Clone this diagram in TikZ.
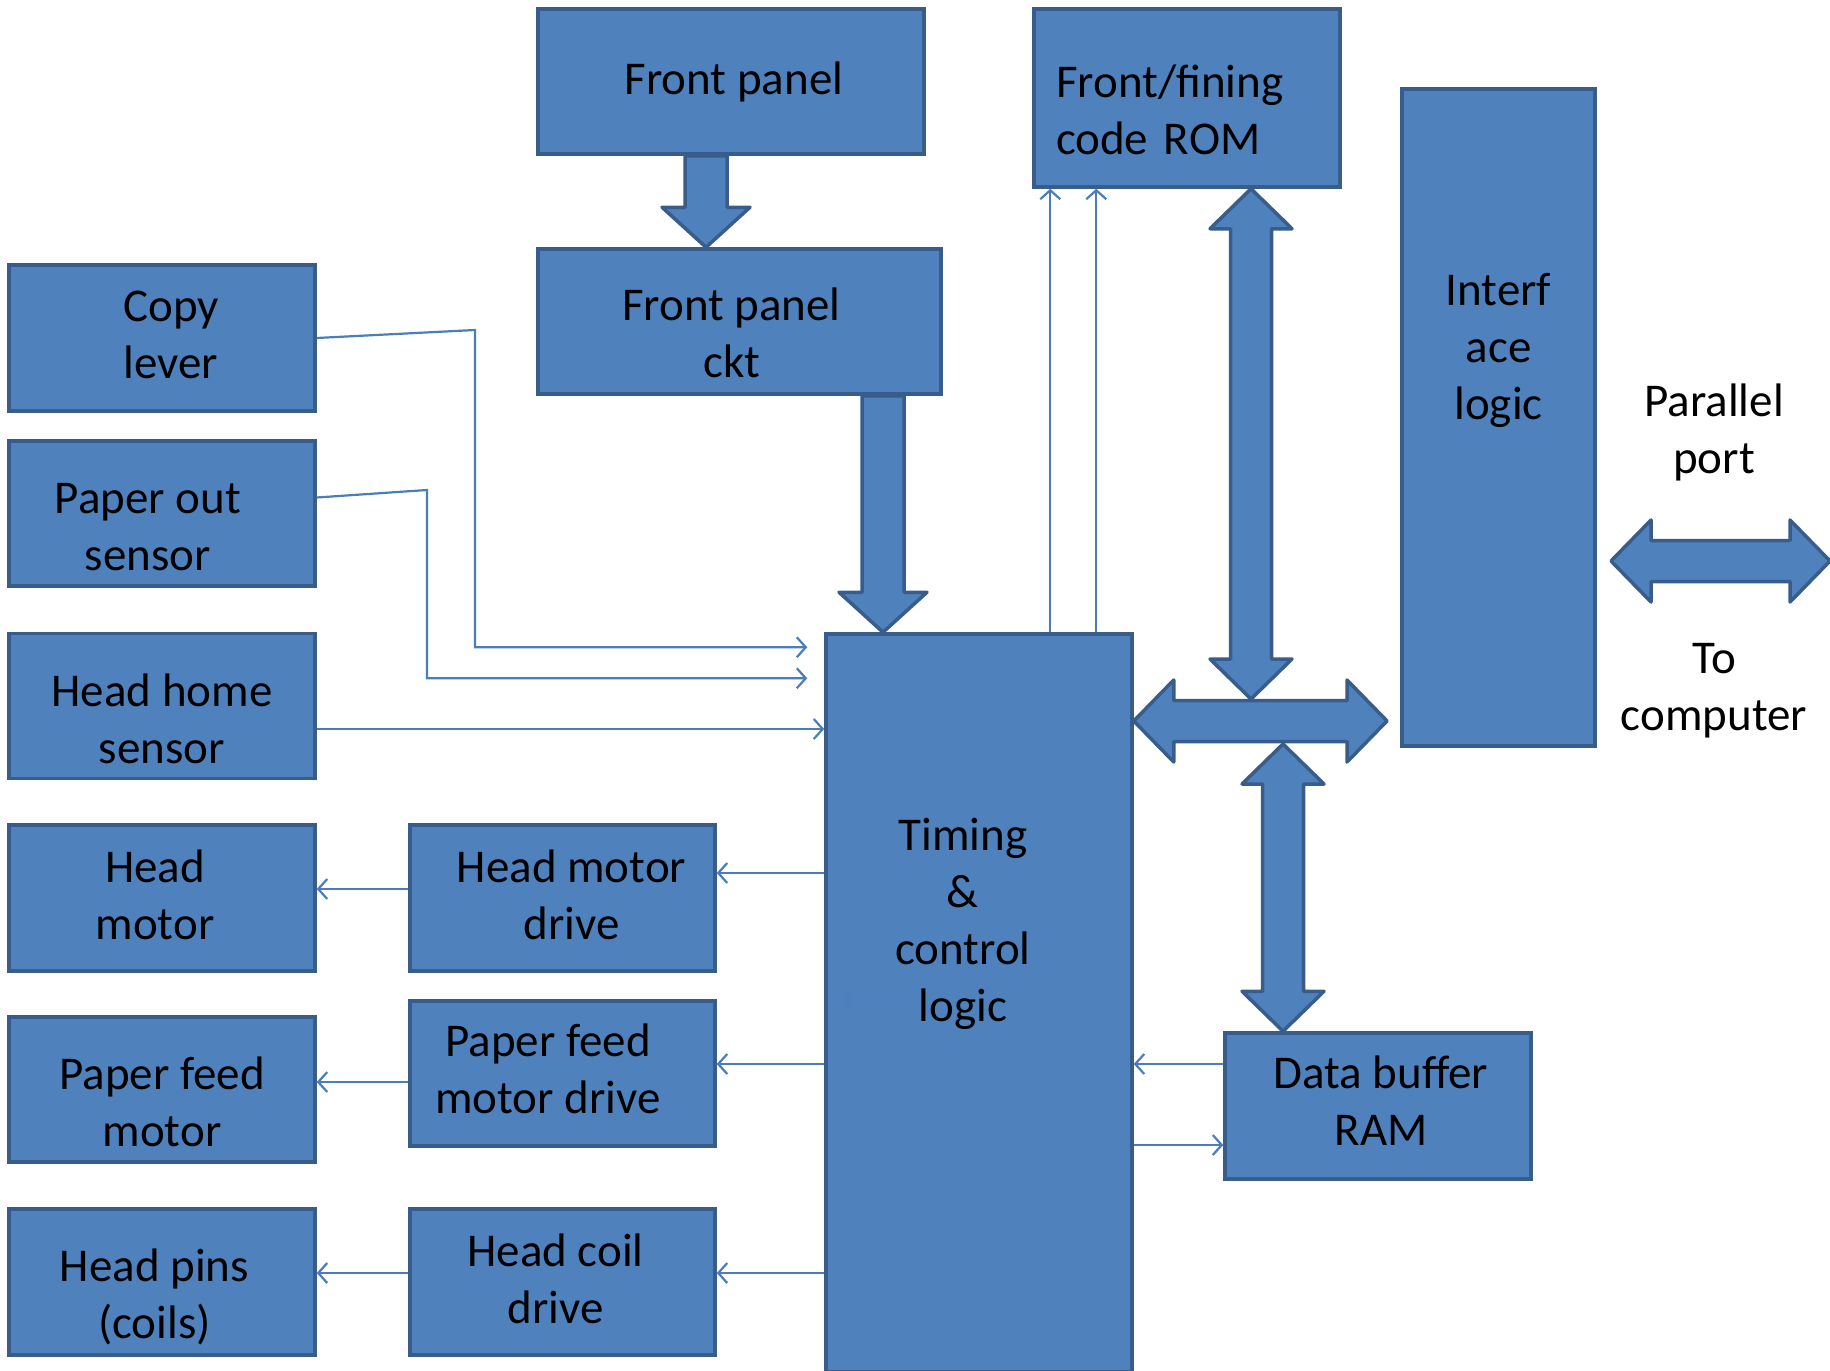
\documentclass[tikz,border=0pt]{standalone}
\usepackage{fontspec}
\setmainfont{Carlito}
\usetikzlibrary{arrows.meta,calc}
\definecolor{boxfill}{HTML}{4F81BD}
\definecolor{boxline}{HTML}{385D8A}
\definecolor{wirec}{HTML}{4A7EBB}
% fat block arrows: x taken from #1, end taken from #2
\newcommand{\fatdown}[2]{\draw[fat] let \p1=(#1),\p2=(#2) in
  (\x1-21pt,\y1)--(\x1-21pt,\y2+40pt)--(\x1-44pt,\y2+40pt)--(\x1,\y2)
  --(\x1+44pt,\y2+40pt)--(\x1+21pt,\y2+40pt)--(\x1+21pt,\y1)--cycle;}
\newcommand{\fatvv}[2]{\draw[fat] let \p1=(#1),\p2=(#2) in
  (\x1,\y1)--(\x1+41pt,\y1-40pt)--(\x1+20.5pt,\y1-40pt)--(\x1+20.5pt,\y2+40pt)
  --(\x1+41pt,\y2+40pt)--(\x1,\y2)--(\x1-41pt,\y2+40pt)--(\x1-20.5pt,\y2+40pt)
  --(\x1-20.5pt,\y1-40pt)--(\x1-41pt,\y1-40pt)--cycle;}
\newcommand{\fathh}[2]{\draw[fat] let \p1=(#1),\p2=(#2) in
  (\x1,\y1)--(\x1+40pt,\y1+41pt)--(\x1+40pt,\y1+20.5pt)--(\x2-40pt,\y1+20.5pt)
  --(\x2-40pt,\y1+41pt)--(\x2,\y1)--(\x2-40pt,\y1-41pt)--(\x2-40pt,\y1-20.5pt)
  --(\x1+40pt,\y1-20.5pt)--(\x1+40pt,\y1-41pt)--cycle;}

\begin{document}
\begin{tikzpicture}[x=1pt,y=-1pt,>={Straight Barb[length=9pt,width=20pt]},font=\fontsize{47}{57}\selectfont]
\tikzstyle{block}=[draw=boxline,fill=boxfill,line width=3.5pt,inner sep=0pt,align=center,minimum width=306,minimum height=145]
\tikzstyle{fat}=[draw=boxline,fill=boxfill,line width=3.5pt,line join=round]
\tikzstyle{wire}=[->,draw=wirec,line width=2.2pt]
\tikzstyle{txt}=[align=center,inner sep=0pt]
\tikzstyle{every label}=[align=center,inner sep=0pt]
\useasboundingbox (0,0) rectangle (1830,1370);

% top row
\node[block,minimum width=386,label={[xshift=3]center:Front panel}](fp) at (731,81.5){};
\node[block,minimum width=403,label={[xshift=-8,yshift=-11]center:Front panel\\ckt}](fpc) at (739.5,321.5){};
\node[block,minimum height=178,label={[align=left,text width=262,yshift=-12]center:Front/fining\\code ROM}](rom) at (1187,98){};
\node[block,minimum width=193,minimum height=657](il) at (1498.5,417.5){};
\node[txt](ilt) at ($(il.north)+(0,263)$){Interf\\ace\\logic};

% left column
\node[block,minimum height=146,label={[xshift=9,yshift=3]center:Copy\\lever}](cl) at (162,338){};
\node[block,label={[xshift=-14,yshift=-14]center:Paper out\\sensor}](po) at (162,513.5){};
\node[block,label={[yshift=-13]center:Head home\\sensor}](hh) at (162,706){};
\node[block,minimum height=146,label={[xshift=-7,yshift=3.5]center:Head\\motor}](hm) at (162,898){};
\node[block,label={[yshift=-12]center:Paper feed\\motor}](pfm) at (162,1089.5){};
\node[block,minimum height=146,label={[xshift=-7.5,yshift=-15]center:Head pins\\(coils)}](hp) at (162,1282){};

% drivers
\node[block,minimum width=305,minimum height=146,label={[xshift=9,yshift=3.5]center:Head motor\\drive}](hmd) at (562.5,898){};
\node[block,minimum width=305,label={[xshift=-14.5,yshift=4.5]center:Paper feed\\motor drive}](pfd) at (562.5,1073.5){};
\node[block,minimum width=305,minimum height=146,label={[xshift=-7,yshift=3.5]center:Head coil\\drive}](hcd) at (562.5,1282){};

% controller and RAM
\node[block,minimum height=738](tc) at (979,1003){};
\node[txt](tct) at ($(tc.north)+(-16,292)$){Timing\\\&\\control\\logic};
\node[block,minimum height=146,label={[xshift=3,yshift=5]center:Data buffer\\RAM}](ram) at (1378,1106){};

\node[txt](pp) at (1714,432){Parallel\\port};
\node[txt](tocomp) at (1714,691){To\\computer};

\coordinate (busN) at (1251,699);
\coordinate (busS) at (1283,744);
\coordinate (busR) at (1387,721);
\coordinate (ppL) at (1611,561);
\coordinate (ppR) at (1830,561);

% buses
\fatdown{[xshift=-25pt]fp.south}{fpc.north}
\fatdown{[xshift=143.5pt]fpc.south}{tc.north}
\fathh{tc.east |- busR}{busR}
\fatvv{[xshift=64pt]rom.south}{busN}
\fatvv{busS}{ram.north}
\fathh{ppL}{ppR}

% signal lines
\draw[wire](cl.east)--(475,330)|-($(tc.north west)+(-17,15)$);
\draw[wire]([yshift=16pt]po.east)--(427,490)|-($(tc.north west)+(-17,46)$);
\draw[wire]([yshift=-23pt]hh.east)--([yshift=-23pt]hh.east -| tc.west);
\draw[wire]([yshift=25pt]hmd.east -| tc.west)--([yshift=25pt]hmd.east);
\draw[wire]([yshift=9pt]hmd.west)--([yshift=9pt]hm.east);
\draw[wire]([yshift=9.5pt]pfd.east -| tc.west)--([yshift=9.5pt]pfd.east);
\draw[wire]([yshift=7.5pt]pfm.east -| pfd.west)--([yshift=7.5pt]pfm.east);
\draw[wire]([yshift=9pt]hcd.east -| tc.west)--([yshift=9pt]hcd.east);
\draw[wire]([yshift=9pt]hcd.west)--([yshift=9pt]hp.east);
\draw[wire]([yshift=42pt]ram.west)--([yshift=42pt]ram.west -| tc.east);
\draw[wire]([yshift=-39pt]ram.west -| tc.east)--([yshift=-39pt]ram.west);
\draw[wire]([xshift=226pt]tc.north west)--([xshift=226pt]tc.north west |- rom.south);
\draw[wire]([xshift=272pt]tc.north west)--([xshift=272pt]tc.north west |- rom.south);
\draw[wire,opacity=.25]($(tc.west)+(91,-3)$)--($(tc.west)+(19,-3)$);
\end{tikzpicture}
\end{document}
